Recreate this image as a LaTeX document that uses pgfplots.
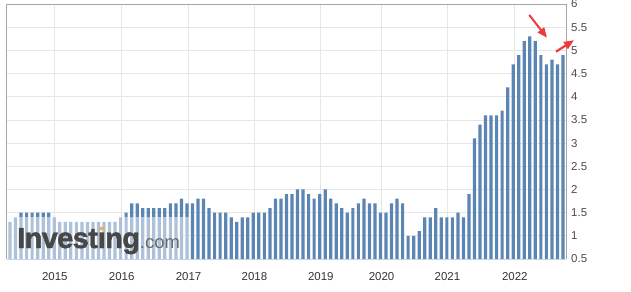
\documentclass[border=0pt]{standalone}
\usepackage{pgfplots}
\pgfplotsset{compat=1.18}
\usepackage{fontspec}
\setmainfont{Liberation Sans}
\newfontfamily\logofont[FakeBold=1.6, LetterSpace=-2]{Liberation Sans Bold}
\usetikzlibrary{arrows.meta}
\definecolor{barblue}{HTML}{5B85B3}
\definecolor{gridgray}{HTML}{E6E6E6}
\definecolor{bordergray}{HTML}{A6A6A6}
\definecolor{bottomline}{HTML}{C6D3E4}
\definecolor{labelgray}{HTML}{333333}
\definecolor{ylabelgray}{HTML}{4A4A4A}
\definecolor{logogray}{HTML}{474747}
\definecolor{logolight}{HTML}{6A6A6A}
\definecolor{logoorange}{HTML}{F2B33D}
\definecolor{arrowred}{HTML}{F03A3A}
\begin{document}
\begin{tikzpicture}[x=1bp,y=1bp]
\path[use as bounding box] (0,0) rectangle (631,291);
\begin{axis}[
  at={(6.7bp,32bp)}, anchor=south west,
  scale only axis, width=559.3bp, height=255bp,
  xmin=-0.6, xmax=100.55, ymin=0.5, ymax=6,
  ybar, bar width=3.2bp,
  ytick={0.5,1,1.5,2,2.5,3,3.5,4,4.5,5,5.5,6},
  yticklabel pos=right,
  xtick={8.1,20.2,32.3,44.2,56.2,67.2,79.1,91.3},
  xticklabels={2015,2016,2017,2018,2019,2020,2021,2022},
  grid=major,
  major grid style={draw=gridgray, line width=0.8bp},
  major tick length=0pt,
  axis line style={draw=none},
  /pgf/number format/assume math mode=true,
  yticklabel style={anchor=west, inner sep=0pt, xshift=5bp,
    font=\fontsize{11.5}{11.5}\selectfont, text=ylabelgray},
  xticklabel style={anchor=base, inner sep=0pt, yshift=-21.6bp,
    font=\fontsize{11.5}{11.5}\selectfont, text=labelgray},
  clip=false,
]
\addplot[fill=barblue, draw=none] coordinates {
(0,1.3) (1,1.4) (2,1.5) (3,1.5) (4,1.5) (5,1.5) (6,1.5) (7,1.5) (8,1.4) (9,1.3)
(10,1.3) (11,1.3) (12,1.3) (13,1.3) (14,1.3) (15,1.3) (16,1.3) (17,1.3) (18,1.3) (19,1.3)
(20,1.4) (21,1.5) (22,1.7) (23,1.7) (24,1.6) (25,1.6) (26,1.6) (27,1.6) (28,1.6) (29,1.7)
(30,1.7) (31,1.8) (32,1.7) (33,1.7) (34,1.8) (35,1.8) (36,1.6) (37,1.5) (38,1.5) (39,1.5)
(40,1.4) (41,1.3) (42,1.4) (43,1.4) (44,1.5) (45,1.5) (46,1.5) (47,1.6) (48,1.8) (49,1.8)
(50,1.9) (51,1.9) (52,2.0) (53,2.0) (54,1.9) (55,1.8) (56,1.9) (57,2.0) (58,1.8) (59,1.7)
(60,1.6) (61,1.5) (62,1.6) (63,1.7) (64,1.8) (65,1.7) (66,1.7) (67,1.5) (68,1.5) (69,1.7)
(70,1.8) (71,1.7) (72,1.0) (73,1.0) (74,1.1) (75,1.4) (76,1.4) (77,1.6) (78,1.4) (79,1.4)
(80,1.4) (81,1.5) (82,1.4) (83,1.9) (84,3.1) (85,3.4) (86,3.6) (87,3.6) (88,3.6) (89,3.7)
(90,4.2) (91,4.7) (92,4.9) (93,5.2) (94,5.3) (95,5.2) (96,4.9) (97,4.7) (98,4.8) (99,4.7)
(100,4.9)
};
% watermark veil
\fill[white, opacity=0.5] (axis cs:-0.6,0.5) rectangle (axis cs:32.45,1.41);
% borders
\draw[bordergray, line width=0.9bp] (rel axis cs:0,0) -- (rel axis cs:0,1) -- (rel axis cs:1,1) -- (rel axis cs:1,0);
\draw[bottomline, line width=1bp] (rel axis cs:0,0) -- (rel axis cs:1,0);
\end{axis}
% logo
\node[anchor=base west, inner sep=0pt] at (17,43)
  {{\fontsize{29}{29}\logofont\color{logogray}Invest\rlap{\color{logoorange}i}\color{logogray}ıng}{\fontsize{18.5}{18.5}\selectfont\color{logolight}.com}};
% red arrows
\draw[arrowred, line width=2bp, -{Triangle[length=10bp,width=8bp]}] (529.3,276) -- (547,253.3);
\draw[arrowred, line width=2.2bp, -{Triangle[length=10bp,width=8bp]}] (556,239.3) -- (574,250.8);
\end{tikzpicture}
\end{document}
